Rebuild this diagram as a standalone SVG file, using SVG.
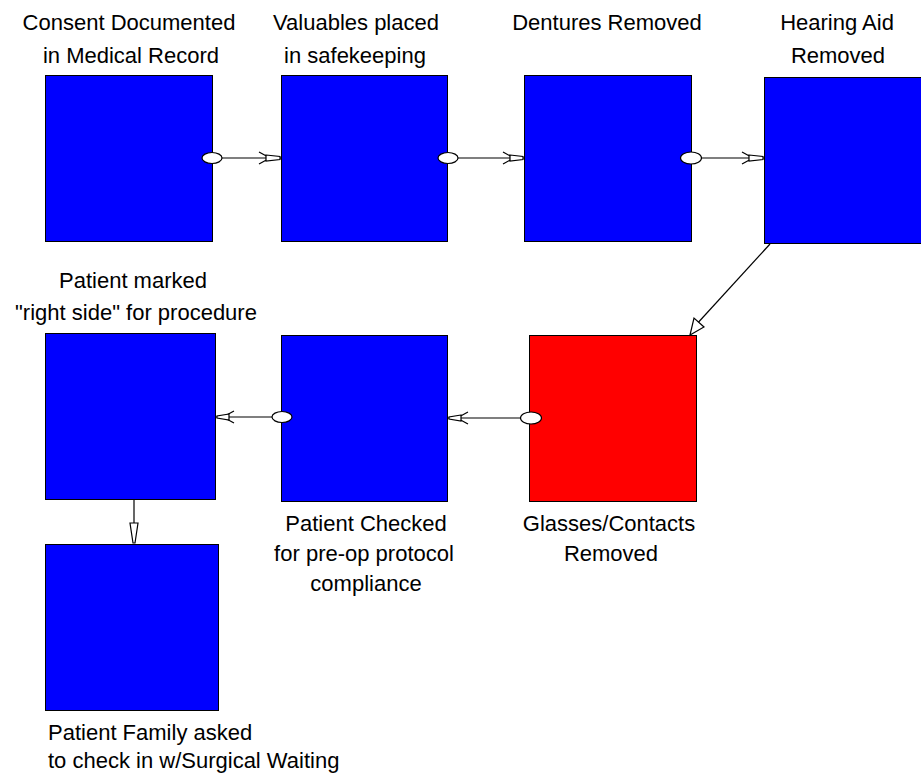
<svg xmlns="http://www.w3.org/2000/svg" width="921" height="784" viewBox="0 0 921 784">
<style>
.b{fill:#0000FF;stroke:#000;stroke-width:1}
.r{fill:#FF0000;stroke:#000;stroke-width:1}
text{font-family:"Liberation Sans",Arial,sans-serif;font-size:22px;fill:#000}
.c{text-anchor:middle}
.ln{stroke:#000;stroke-width:1.2;fill:none}
.ov{fill:#fff;stroke:#000;stroke-width:1.2}
.ah{fill:#fff;stroke:#000;stroke-width:1.2}
</style>
<rect width="921" height="784" fill="#fff"/>
<g id="n1">
<rect class="b" x="45.5" y="75.5" width="167" height="166"/>
<text class="c" x="129" y="30">Consent Documented</text>
<text class="c" x="131" y="63">in Medical Record</text>
</g>
<g id="n2">
<rect class="b" x="281.5" y="75.5" width="166" height="166"/>
<text class="c" x="356" y="30">Valuables placed</text>
<text class="c" x="355" y="63">in safekeeping</text>
</g>
<g id="n3">
<rect class="b" x="524.5" y="75.5" width="167" height="166"/>
<text class="c" x="607" y="30">Dentures Removed</text>
</g>
<g id="n4">
<rect class="b" x="764.5" y="77.5" width="167" height="166"/>
<text class="c" x="837" y="30">Hearing Aid</text>
<text class="c" x="838" y="63">Removed</text>
</g>
<g id="n5">
<rect class="b" x="45.5" y="333.5" width="170" height="166"/>
<text class="c" x="133" y="288">Patient marked</text>
<text class="c" x="136" y="320">"right side" for procedure</text>
</g>
<g id="n6">
<rect class="b" x="281.5" y="335.5" width="166" height="166"/>
<text class="c" x="366" y="531">Patient Checked</text>
<text class="c" x="364" y="561">for pre-op protocol</text>
<text class="c" x="366" y="591">compliance</text>
</g>
<g id="n7">
<rect class="r" x="529.5" y="335.5" width="167" height="166"/>
<text class="c" x="609" y="531">Glasses/Contacts</text>
<text class="c" x="611" y="561">Removed</text>
</g>
<g id="n8">
<rect class="b" x="45.5" y="544.5" width="173" height="166"/>
<text x="48" y="740">Patient Family asked</text>
<text x="48" y="768">to check in w/Surgical Waiting</text>
</g>
<g id="connectors">
<!-- 1 -> 2 -->
<line class="ln" x1="222" y1="158" x2="281" y2="158"/>
<ellipse class="ov" cx="212" cy="158" rx="10" ry="5.5"/>
<path class="ln" d="M259,152 L270,158 L259,164"/>
<path class="ah" d="M266,155 L280,156.5 L280,159.5 L266,161 Z"/>
<!-- 2 -> 3 -->
<line class="ln" x1="458" y1="158" x2="524" y2="158"/>
<ellipse class="ov" cx="448" cy="158" rx="10" ry="5.5"/>
<path class="ln" d="M503,152 L514,158 L503,164"/>
<path class="ah" d="M510,155 L523,156.5 L523,159.5 L510,161 Z"/>
<!-- 3 -> 4 -->
<line class="ln" x1="701" y1="158" x2="764" y2="158"/>
<ellipse class="ov" cx="691" cy="158" rx="10.5" ry="6"/>
<path class="ln" d="M742,152 L753,158 L742,164"/>
<path class="ah" d="M749,155 L763,156.5 L763,159.5 L749,161 Z"/>
<!-- 4 -> 7 -->
<line class="ln" x1="770" y1="244" x2="695" y2="326"/>
<path class="ah" d="M690,335 L694,318 L704,327 Z"/>
<!-- 7 -> 6 -->
<line class="ln" x1="521" y1="418" x2="448" y2="418"/>
<ellipse class="ov" cx="531" cy="418" rx="10.5" ry="6"/>
<path class="ln" d="M468,412 L457,418 L468,424"/>
<path class="ah" d="M461,415 L449,417 L449,419 L461,421 Z"/>
<!-- 6 -> 5 -->
<line class="ln" x1="272" y1="417" x2="216" y2="417"/>
<ellipse class="ov" cx="282" cy="417" rx="10" ry="5.5"/>
<path class="ln" d="M234,411 L223,417 L234,423"/>
<path class="ah" d="M229,414 L217,416 L217,418 L229,420 Z"/>
<!-- 5 -> 8 -->
<line class="ln" x1="134" y1="500" x2="134" y2="523"/>
<path class="ah" d="M130,523 L138,523 L135,543 L133,543 Z"/>
</g>
</svg>
